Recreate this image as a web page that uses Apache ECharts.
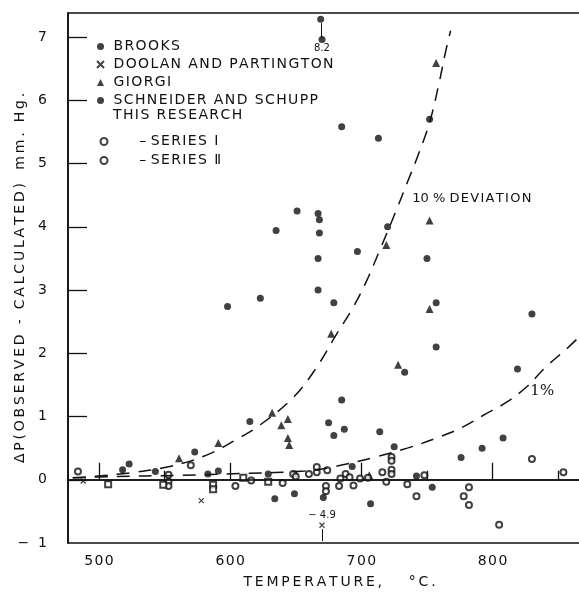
<!DOCTYPE html>
<html>
<head>
<meta charset="utf-8">
<script src="https://cdn.jsdelivr.net/npm/echarts@6/dist/echarts.min.js"></script>
<style>
  html, body { margin: 0; padding: 0; background: #fff; }
  #main { width: 579px; height: 592px; }
</style>
</head>
<body>
<div id="main"></div>
<script>
// [temperature C, delta P mm Hg]
var brooks = [[669,7.28],[670,6.96],[685,5.58],[752,5.7],[713,5.4],[651,4.25],[667,4.21],[668,4.11],
  [635,3.94],[668,3.9],[720,4.0],[697,3.61],[667,3.5],[750,3.5],[667,3.0],[679,2.8],[757,2.8],
  [623,2.87],[598,2.74],[830,2.62],[757,2.1],[733,1.7],[819,1.75],[685,1.26],[675,0.9],[687,0.8],
  [679,0.7],[714,0.76],[725,0.52],[808,0.66],[792,0.5],[776,0.35],[693,0.21],[742,0.06],
  [754,-0.12],[707,-0.38],[671,-0.28],[649,-0.22],[634,-0.3]];
var schneider = [[615,0.92],[573,0.44],[523,0.25],[518,0.16],[543,0.13],[583,0.09],[591,0.14],[629,0.09]];
var giorgi = [[757,6.59],[752,4.1],[719,3.71],[677,2.31],[728,1.82],[752,2.7],[632,1.06],[644,0.96],
  [639,0.86],[644,0.66],[645,0.55],[591,0.58],[561,0.34],[706,0.07]];
var doolan = [[488,-0.02],[578,-0.33],[670,-0.72]];
var seriesOne = [[484,0.13],[570,0.23],[553,0.08],[553,-0.03],[553,-0.1],[604,-0.1],[616,-0.01],
  [640,-0.05],[648,0.09],[650,0.05],[660,0.09],[666,0.12],[666,0.2],[674,0.15],[688,0.09],[684,0.02],
  [691,0.04],[699,0.02],[705,0.03],[716,0.12],[723,0.16],[723,0.09],[723,0.36],[723,0.3],[719,-0.03],
  [748,0.07],[735,-0.07],[742,-0.26],[683,-0.1],[694,-0.09],[673,-0.1],[673,-0.18],[782,-0.12],
  [778,-0.26],[782,-0.4],[805,-0.71],[830,0.33],[854,0.12]];
var seriesTwo = [[507,-0.07],[549,-0.08],[587,-0.08],[587,-0.15],[610,0.03],[629,-0.03]];
var curve10 = [[480,0.03],[493,0.05],[524,0.11],[554,0.21],[582,0.39],[605,0.64],[623,0.87],[648,1.3],
  [665,1.75],[681,2.3],[693,2.7],[703,3.1],[714,3.63],[727,4.28],[735,4.7],[743,5.12],[752,5.65],
  [759,6.25],[764,6.75],[768,7.1]];
var curve1 = [[480,0.03],[510,0.05],[560,0.07],[610,0.1],[657,0.14],[680,0.21],[709,0.35],[735,0.5],
  [760,0.68],[776,0.82],[793,1.02],[811,1.23],[826,1.47],[841,1.79],[857,2.08],[868,2.3]];
var xLabels = [500, 600, 700, 800];
var xMinor = [550, 650, 750, 850];
var yLabels = [-1, 0, 1, 2, 3, 4, 5, 6, 7];

// the lettering on the original is widely spaced
function spaced(s, sp) { return s.split('').join(sp); }
var HAIR = '\u200A', THIN = '\u2009';

var dom = document.getElementById("main");
var myChart = echarts.init(dom);
var font = 'DejaVu Sans';
var ink = '#111';
var xMin = 476.4, xMax = 867.4;

option = {
    animation: false,
    backgroundColor: '#fff',
    textStyle: { fontFamily: font, color: ink },
    grid: [
        { left: 68, right: -2, top: 13, bottom: 49, outerBoundsMode: 'none', containLabel: false,
          show: true, borderColor: ink, borderWidth: 1.6, backgroundColor: 'transparent' },
        { left: 68, right: -2, top: 13, bottom: 49, outerBoundsMode: 'none', containLabel: false }
    ],
    xAxis: [
        {
            type: 'value', min: xMin, max: xMax, gridIndex: 0,
            name: spaced('TEMPERATURE,', THIN) + '      ' + spaced('°C.', THIN),
            nameLocation: 'middle', nameGap: 32, nameMoveOverlap: false,
            nameTextStyle: { fontSize: 14, color: ink, padding: [0, 0, 0, 30] },
            axisLine: { lineStyle: { color: ink, width: 1.6 } },
            axisTick: { inside: true, length: 17, customValues: xLabels, lineStyle: { color: ink, width: 1.3 } },
            axisLabel: { customValues: xLabels, fontSize: 14, color: ink, margin: 11,
                formatter: function (v) { return spaced(String(v), HAIR); } },
            splitLine: { show: false }
        },
        {
            type: 'value', min: xMin, max: xMax, gridIndex: 1,
            axisLine: { show: false },
            axisTick: { inside: true, length: 9, customValues: xMinor, lineStyle: { color: ink, width: 1.3 } },
            axisLabel: { show: false },
            splitLine: { show: false }
        }
    ],
    yAxis: [
        {
            type: 'value', min: -1, max: 7.38, interval: 1, gridIndex: 0,
            name: spaced('ΔP(OBSERVED - CALCULATED)', THIN) + '   ' + spaced('mm. Hg.', THIN),
            nameLocation: 'middle', nameGap: 41, nameMoveOverlap: false,
            nameTextStyle: { fontSize: 14, color: ink },
            axisLine: { lineStyle: { color: ink, width: 1.6 } },
            axisTick: { inside: true, length: 19, customValues: [0, 1, 2, 3, 4, 5, 6, 7], lineStyle: { color: ink, width: 1.3 } },
            axisLabel: {
                customValues: yLabels, fontSize: 14, color: ink, margin: 21,
                formatter: function (v) { return v < 0 ? '−  1' : String(v); }
            },
            splitLine: { show: false }
        },
        { type: 'value', min: -1, max: 7.38, gridIndex: 1, show: false }
    ],
    legend: [
        {
            left: 94.5, top: 38, padding: 0, orient: 'vertical', itemGap: 1, itemWidth: 7, itemHeight: 7,
            textStyle: { fontSize: 14, color: ink, fontFamily: font, lineHeight: 17 },
            formatter: function (n) { return ' ' + spaced(n, HAIR); },
            data: ['BROOKS', 'DOOLAN AND PARTINGTON', 'GIORGI', 'SCHNEIDER AND SCHUPP']
        },
        {
            left: 99.5, top: 133, padding: 0, orient: 'vertical', itemGap: 2, itemWidth: 7, itemHeight: 7,
            textStyle: { fontSize: 14, color: ink, fontFamily: font, lineHeight: 17 },
            formatter: function (n) { return '      – ' + spaced(n, HAIR); },
            data: [{ name: 'SERIES Ⅰ', icon: 'emptyCircle' }, { name: 'SERIES Ⅱ', icon: 'emptyCircle' }]
        }
    ],
    graphic: [
        { type: 'text', left: 113, top: 108, style: { text: spaced('THIS RESEARCH', HAIR), font: '14px "DejaVu Sans"', fill: ink } }
    ],
    series: [
        {
            name: '10%', type: 'line', data: curve10, smooth: 0.4, symbol: 'none', silent: true,
            lineStyle: { color: ink, width: 1.5, type: [13, 9] },
            markPoint: {
                symbolSize: 0,
                label: { show: true, position: 'right', color: ink, fontSize: 13, fontFamily: font },
                data: [{ coord: [735, 4.45], value: '10 % ' + spaced('DEVIATION', HAIR) }]
            },
            markLine: {
                silent: true, symbol: 'none', label: { show: false },
                lineStyle: { color: ink, width: 1.6, type: 'solid' },
                data: [{ yAxis: 0 }]
            }
        },
        {
            name: '1%', type: 'line', data: curve1, smooth: 0.4, symbol: 'none', silent: true,
            lineStyle: { color: ink, width: 1.5, type: [13, 9] },
            markPoint: {
                symbolSize: 0,
                label: { show: true, position: 'right', color: ink, fontSize: 15, fontFamily: 'DejaVu Serif' },
                data: [{ coord: [825, 1.4], value: '1%' }]
            }
        },
        {
            name: 'BROOKS', type: 'scatter', data: brooks, symbol: 'circle', symbolSize: 7,
            itemStyle: { color: ink },
            markLine: {
                silent: true, symbol: ['none', 'arrow'], symbolSize: [0, 6], label: { show: false },
                lineStyle: { color: ink, width: 1, type: 'solid' },
                data: [[{ coord: [669.5, 6.98] }, { coord: [669.5, 7.22] }]]
            },
            markPoint: {
                symbolSize: 0,
                label: { show: true, position: 'inside', color: ink, fontSize: 10, fontFamily: font },
                data: [{ coord: [670, 6.82], value: '8.2' }]
            }
        },
        {
            name: 'DOOLAN AND PARTINGTON', type: 'scatter', data: doolan,
            symbol: 'path://M0,0L10,10M10,0L0,10', symbolSize: 5,
            itemStyle: { color: 'none', borderColor: ink, borderWidth: 1.2 },
            markLine: {
                silent: true, symbol: ['none', 'arrow'], symbolSize: [0, 6], label: { show: false },
                lineStyle: { color: ink, width: 1, type: 'solid' },
                data: [[{ coord: [670, -0.78] }, { coord: [670, -0.97] }]]
            },
            markPoint: {
                symbolSize: 0,
                label: { show: true, position: 'inside', color: ink, fontSize: 10, fontFamily: font },
                data: [{ coord: [670, -0.57], value: '− 4.9' }]
            }
        },
        {
            name: 'GIORGI', type: 'scatter', data: giorgi, symbol: 'triangle', symbolSize: 8,
            itemStyle: { color: ink }
        },
        {
            name: 'SCHNEIDER AND SCHUPP', type: 'scatter', data: schneider, symbol: 'circle', symbolSize: 7,
            itemStyle: { color: ink }
        },
        {
            name: 'SERIES Ⅰ', type: 'scatter', data: seriesOne, symbol: 'emptyCircle', symbolSize: 6,
            itemStyle: { color: ink, borderWidth: 1.2 }
        },
        {
            name: 'SERIES Ⅱ', type: 'scatter', data: seriesTwo, symbol: 'emptyRect', symbolSize: 6,
            itemStyle: { color: ink, borderWidth: 1.2 }
        }
    ]
};

if (option && typeof option === "object") {
    myChart.setOption(option, true);
}
</script>
</body>
</html>
